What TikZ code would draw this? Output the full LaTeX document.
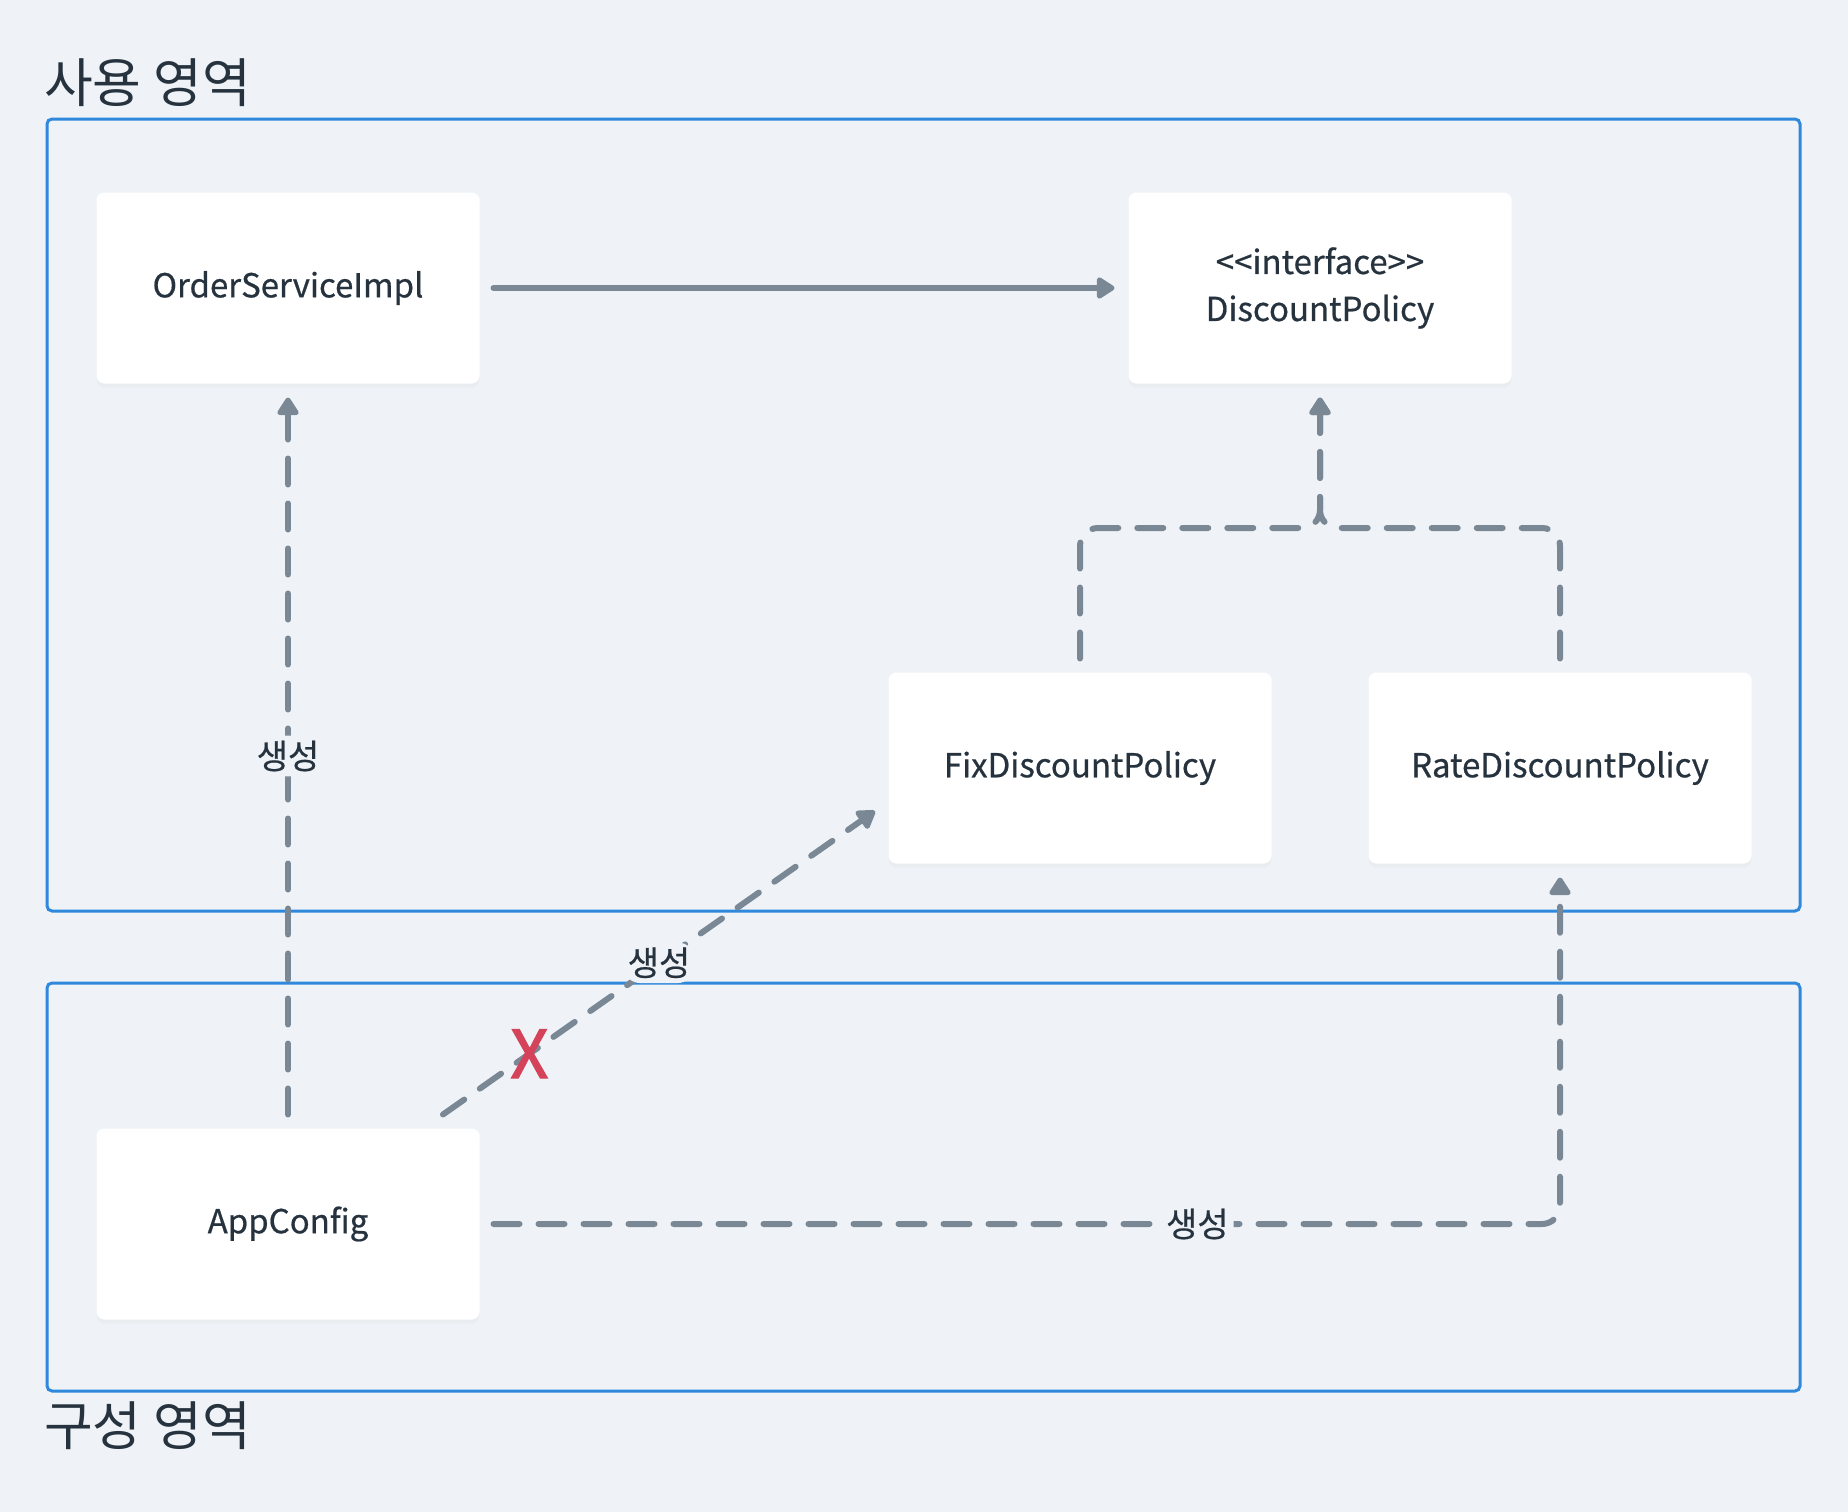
\documentclass[tikz,border=0pt]{standalone}
\usepackage{fontspec}
\setmainfont{Noto Sans CJK KR}
\newfontfamily\medfont{Noto Sans CJK KR}[FakeBold=0.6]
\newfontfamily\xfont{Noto Sans CJK KR}[FakeBold=2.2]
\usetikzlibrary{arrows.meta,shadows}
\definecolor{bg}{HTML}{EFF3F7}
\definecolor{frameblue}{HTML}{2E88DC}
\definecolor{arrowgray}{HTML}{7A8896}
\definecolor{txt}{HTML}{26333F}
\definecolor{xred}{HTML}{D4435A}
\tikzset{
  box/.style={fill=white, rounded corners=8pt, minimum width=383pt, minimum height=191pt,
    inner sep=0pt, outer sep=14pt, text=txt, font=\medfont\fontsize{33}{47}\selectfont, align=center,
    drop shadow={opacity=0.05, shadow xshift=0pt, shadow yshift=-4pt}},
  conn/.style={draw=arrowgray, line width=6pt, line cap=round, rounded corners=18pt,
    -{Triangle[length=20pt,width=24pt,round]}},
  dashedconn/.style={conn, dash pattern=on 26pt off 19pt},
  lbl/.style={fill=bg, text=txt, font=\medfont\fontsize{34}{40}\selectfont, inner sep=5pt},
  region/.style={draw=frameblue, line width=3pt, rounded corners=5pt},
  title/.style={text=txt, font=\fontsize{53}{60}\selectfont, anchor=west, inner sep=0pt},
}
\begin{document}
\begin{tikzpicture}[x=1pt,y=-1pt]
\fill[bg] (0,0) rectangle (1848,1512);
\useasboundingbox (0,0) rectangle (1848,1512);

\node[title] (usetitle) at (44,83) {사용 영역};
\node[title] (cfgtitle) at (44,1426) {구성 영역};
\draw[region] (47,119) rectangle (1800,911);
\draw[region] (47,983) rectangle (1800,1391);

\node[box] (OSI) at (288,288) {OrderServiceImpl};
\node[box] (DP) at (1320,288) {{<}{<}interface{>}{>}\\DiscountPolicy};
\node[box] (Fix) at (1080,768) {FixDiscountPolicy};
\node[box] (Rate) at (1560,768) {RateDiscountPolicy};
\node[box] (App) at (288,1224) {AppConfig};

\coordinate (jn) at (1320,528);
\coordinate (fixin) at (875,811);

\draw[conn] (OSI.east) -- (DP.west);
\draw[dashedconn] (Fix.north) |- (jn) -- (DP.south);
\draw[dashedconn] (Rate.north) |- (jn) -- (DP.south);
\draw[dashedconn] (App.north) -- node[lbl] (l1) {생성} (OSI.south);
\draw[dashedconn] (App) -- node[lbl] (l2) {생성} node[pos=0.2, text=xred, font=\xfont\fontsize{66}{70}\selectfont, inner sep=0pt] (xmark) {X} (fixin);
\draw[dashedconn] (App.east) -| node[lbl, pos=0.33] (l3) {생성} (Rate.south);
\end{tikzpicture}
\end{document}
